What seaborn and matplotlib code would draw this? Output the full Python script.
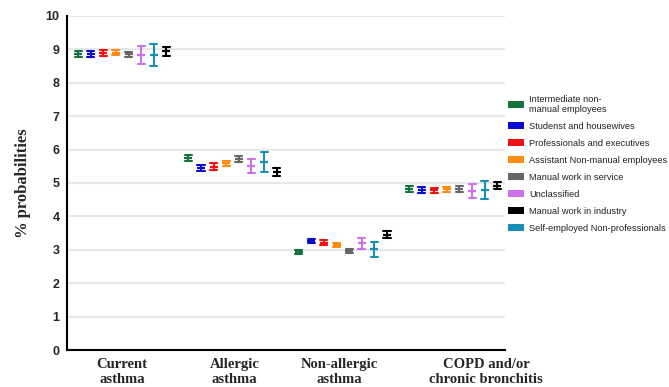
import numpy as np
import pandas as pd
import matplotlib
matplotlib.use("Agg")
import matplotlib.pyplot as plt
import matplotlib.transforms as mtrans
import seaborn as sns
from matplotlib.patches import Patch

outcomes = ["Current\nasthma", "Allergic\nasthma", "Non-allergic\nasthma",
            "COPD and/or\nchronic bronchitis"]

# plotting order (left to right within each cluster)
groups = ["Intermediate non-\nmanual employees", "Studenst and housewives",
          "Professionals and executives", "Assistant Non-manual employees",
          "Manual work in service", "Unclassified",
          "Self-employed Non-professionals", "Manual work in industry"]

# legend order
legend_groups = ["Intermediate non-\nmanual employees", "Studenst and housewives",
                 "Professionals and executives", "Assistant Non-manual employees",
                 "Manual work in service", "Unclassified",
                 "Manual work in industry", "Self-employed Non-professionals"]

colors = ["#12743a", "#0a0ad0", "#f01010", "#ff8a10",
          "#666666", "#d070ee", "#1a8fb5", "#000000"]

# mean % probability per group (rows) and outcome (columns)
means = [
    [8.87, 5.76, 2.93, 4.82],
    [8.87, 5.44, 3.25, 4.79],
    [8.88, 5.49, 3.21, 4.78],
    [8.90, 5.59, 3.14, 4.81],
    [8.85, 5.72, 2.97, 4.82],
    [8.83, 5.51, 3.19, 4.77],
    [8.84, 5.64, 3.01, 4.79],
    [8.94, 5.33, 3.45, 4.92],
]
# half-width of the interval
errs = [
    [0.09, 0.09, 0.06, 0.08],
    [0.09, 0.09, 0.06, 0.08],
    [0.09, 0.10, 0.07, 0.08],
    [0.08, 0.08, 0.05, 0.08],
    [0.08, 0.09, 0.06, 0.08],
    [0.27, 0.22, 0.17, 0.21],
    [0.33, 0.30, 0.22, 0.26],
    [0.13, 0.12, 0.10, 0.11],
]

rows = []
for g, mrow, erow in zip(groups, means, errs):
    for o, m, e in zip(outcomes, mrow, erow):
        for v in (m - e, m, m + e):
            rows.append({"outcome": o, "group": g, "value": v})
df = pd.DataFrame(rows)

sns.set_style("white")
fig = plt.figure(figsize=(6.69, 3.87), dpi=100)
ax = fig.add_axes([0.1002, 0.0956, 0.6547, 0.8631])

for yv in range(0, 11):
    ax.axhline(yv, color="#e8e8e8", lw=1.6, zorder=0)

sns.pointplot(data=df, x="outcome", y="value", hue="group",
              order=outcomes, hue_order=groups, palette=colors,
              estimator="median", errorbar=("pi", 100),
              dodge=0.8, markers="_", linestyles="none",
              capsize=0.064, err_kws={"linewidth": 1.5},
              markersize=5.2, markeredgewidth=1.6,
              legend=False, ax=ax)

ax.set_ylim(0, 10)
ax.set_xlim(-0.5, 3.47)
ax.set_yticks(range(0, 11))
ax.set_xlabel("")
ax.set_ylabel("% probabilities", family="Liberation Serif",
              fontweight="bold", fontsize=12, labelpad=10.5)
for s in ["top", "right"]:
    ax.spines[s].set_visible(False)
for s in ["left", "bottom"]:
    ax.spines[s].set_color("black")
    ax.spines[s].set_linewidth(1.5)
ax.tick_params(axis="both", direction="out", length=4, width=1.3, color="black")
ax.tick_params(axis="x", pad=2)
ax.tick_params(axis="y", pad=1.5)
for lab in ax.get_yticklabels():
    lab.set_family("Liberation Sans")
    lab.set_fontweight("bold")
    lab.set_fontsize(9)
shifts = [0, 2, -4, 33]
for lab, sh in zip(ax.get_xticklabels(), shifts):
    lab.set_family("Liberation Serif")
    lab.set_fontweight("bold")
    lab.set_fontsize(10.5)
    lab.set_transform(lab.get_transform() +
                      mtrans.ScaledTranslation(sh / 100, 0, fig.dpi_scale_trans))

cmap = dict(zip(groups, colors))
handles = [Patch(facecolor=cmap[g], edgecolor="none") for g in legend_groups]
leg = fig.legend(handles, legend_groups, loc="upper left",
                 bbox_to_anchor=(0.7475, 0.777), frameon=False,
                 prop={"family": "Liberation Sans", "size": 6.65},
                 handlelength=1.65, handleheight=0.77, handletextpad=0.6,
                 labelspacing=0.86, borderpad=0.4)
for t in leg.get_texts():
    t.set_color("#222222")

fig.savefig("out.png", dpi=100)
